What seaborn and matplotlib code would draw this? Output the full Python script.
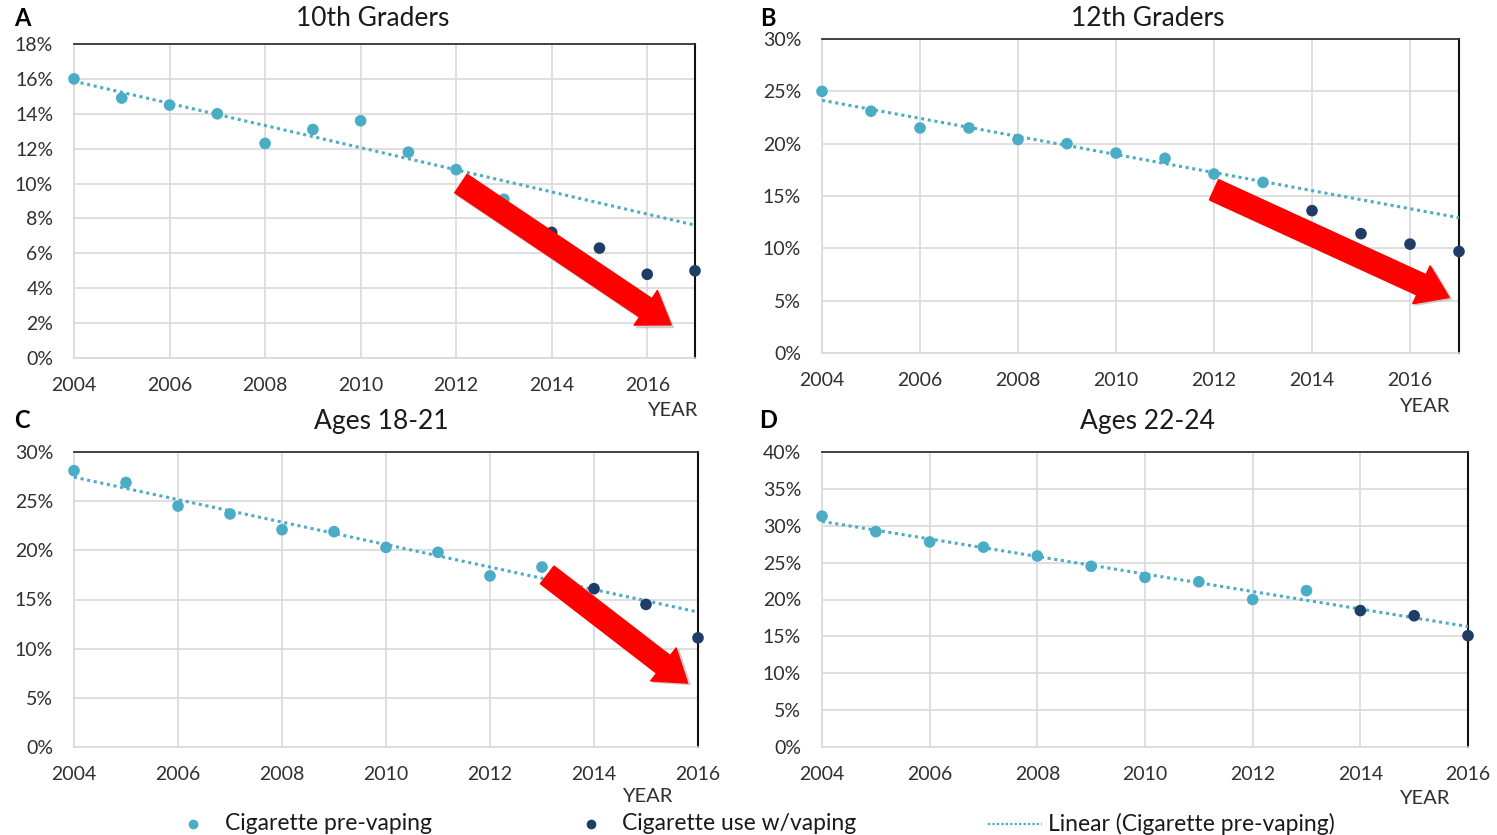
import numpy as np
import pandas as pd
import matplotlib
matplotlib.use("Agg")
import matplotlib.pyplot as plt
import seaborn as sns

sns.set_theme(style="white")
plt.rcParams['font.family'] = ['Lato', 'DejaVu Sans']

# ---------------- data ----------------
years_a = [2004, 2005, 2006, 2007, 2008, 2009, 2010, 2011, 2012, 2013, 2014, 2015, 2016, 2017]
pre_a = [16.0, 14.9, 14.5, 14.0, 12.3, 13.1, 13.6, 11.8, 10.8, 9.1]
vap_a = [7.2, 6.3, 4.8, 5.0]

years_b = [2004, 2005, 2006, 2007, 2008, 2009, 2010, 2011, 2012, 2013, 2014, 2015, 2016, 2017]
pre_b = [25.0, 23.1, 21.5, 21.5, 20.4, 20.0, 19.1, 18.6, 17.1, 16.3]
vap_b = [13.6, 11.4, 10.4, 9.7]

years_c = [2004, 2005, 2006, 2007, 2008, 2009, 2010, 2011, 2012, 2013, 2014, 2015, 2016]
pre_c = [28.1, 26.9, 24.5, 23.7, 22.1, 21.9, 20.3, 19.8, 17.4, 18.3]
vap_c = [16.1, 14.5, 11.1]

years_d = [2004, 2005, 2006, 2007, 2008, 2009, 2010, 2011, 2012, 2013, 2014, 2015, 2016]
pre_d = [31.3, 29.2, 27.8, 27.1, 25.9, 24.5, 23.0, 22.4, 20.0, 21.2]
vap_d = [18.5, 17.8, 15.1]

titles = ["10th Graders", "12th Graders", "Ages 18-21", "Ages 22-24"]
letters = ["A", "B", "C", "D"]
y_max = [18, 30, 30, 40]
y_step = [2, 5, 5, 5]
x_ticks = [2004, 2006, 2008, 2010, 2012, 2014, 2016]

# red annotation arrows (tail -> head), in data units
arrows = [((2012.1, 10.0), (2016.5, 1.9)),
          ((2012.0, 15.6), (2016.8, 5.3)),
          ((2013.1, 17.5), (2015.8, 6.5)),
          None]

legend_labels = ["Cigarette pre-vaping", "Cigarette use w/vaping", "Linear (Cigarette pre-vaping)"]

LIGHT = "#4BACC6"
DARK = "#1F3D66"
GRID = "#D9D9D9"
TXT = "#303030"

fig = plt.figure(figsize=(14.97, 8.35), dpi=100)
W, H = 1497, 835
boxes = [(74, 695, 44, 358), (822, 1459, 39, 353), (74, 698, 452, 747), (822, 1468, 452, 747)]
title_pos = [(373, 18), (1148, 18), (381, 421), (1148, 421)]
letter_pos = [(22, 18), (768, 18), (22, 421), (768, 421)]
year_pos = [(672, 410), (1424, 407), (647, 797), (1424, 798)]

panels = [(years_a, pre_a, vap_a), (years_b, pre_b, vap_b), (years_c, pre_c, vap_c), (years_d, pre_d, vap_d)]

for i, ((yrs, pre, vap), (l, r, t, b)) in enumerate(zip(panels, boxes)):
    ax = fig.add_axes([l / W, 1 - b / H, (r - l) / W, (b - t) / H])
    n_pre = len(pre)
    df_pre = pd.DataFrame({"year": yrs[:n_pre], "val": pre})
    df_vap = pd.DataFrame({"year": yrs[n_pre:], "val": vap})
    slope, icpt = np.polyfit(df_pre["year"], df_pre["val"], 1)
    xs = np.array([yrs[0], yrs[-1]], dtype=float)
    df_fit = pd.DataFrame({"year": xs, "val": slope * xs + icpt})

    sns.lineplot(data=df_fit, x="year", y="val", ax=ax, color=LIGHT, lw=2.2,
                 linestyle=(0, (1, 1.2)), zorder=3)
    sns.scatterplot(data=df_pre, x="year", y="val", ax=ax, color=LIGHT, s=70,
                    edgecolor="none", zorder=4, clip_on=False)
    sns.scatterplot(data=df_vap, x="year", y="val", ax=ax, color=DARK, s=70,
                    edgecolor="none", zorder=4, clip_on=False)

    ax.set_xlim(yrs[0], yrs[-1])
    ax.set_ylim(0, y_max[i])
    ax.set_xticks(x_ticks)
    yt = np.arange(0, y_max[i] + 0.1, y_step[i])
    ax.set_yticks(yt)
    ax.set_yticklabels([f"{v:.0f}%" for v in yt])
    ax.grid(True, color=GRID, lw=1.2)
    ax.set_axisbelow(True)
    ax.tick_params(axis="both", length=0, labelsize=14, colors=TXT)
    ax.tick_params(axis="x", pad=13.5)
    ax.tick_params(axis="y", pad=15)
    ax.set_xlabel("")
    ax.set_ylabel("")
    for s in ["left", "bottom"]:
        ax.spines[s].set_color(GRID)
        ax.spines[s].set_linewidth(1.2)
    ax.spines["top"].set_color("#333333")
    ax.spines["top"].set_linewidth(1.3)
    ax.spines["right"].set_color("#111111")
    ax.spines["right"].set_linewidth(1.5)

    fig.text(title_pos[i][0] / W, 1 - title_pos[i][1] / H, titles[i], ha="center", va="center",
             fontsize=19, color="#1A1A1A")
    fig.text(letter_pos[i][0] / W, 1 - letter_pos[i][1] / H, letters[i],
             ha="center", va="center", fontsize=17, fontweight="bold", color="black")
    fig.text(year_pos[i][0] / W, 1 - year_pos[i][1] / H, "YEAR", ha="center", va="center",
             fontsize=14.5, color=TXT)

    if arrows[i] is not None:
        (x0, y0), (x1, y1) = arrows[i]
        style = "simple,head_length=1.1,head_width=1.5,tail_width=0.8"
        ax.annotate("", xy=(x1 + 0.05, y1 - 0.15), xytext=(x0 + 0.05, y0 - 0.15),
                    arrowprops=dict(arrowstyle=style, color="#BBBBBB", mutation_scale=20,
                                    shrinkA=0, shrinkB=0, alpha=0.6),
                    annotation_clip=False, zorder=5)
        ax.annotate("", xy=(x1, y1), xytext=(x0, y0),
                    arrowprops=dict(arrowstyle=style, color="#FF0000", mutation_scale=20,
                                    shrinkA=0, shrinkB=0),
                    annotation_clip=False, zorder=6)

# legend
ly = 1 - 824 / H
fig.lines.append(plt.Line2D([193 / W], [ly], marker="o", color=LIGHT, ms=6, ls="none",
                            transform=fig.transFigure))
fig.text(225 / W, ly, legend_labels[0], ha="left", va="center", fontsize=16.5, color="#1A1A1A")
fig.lines.append(plt.Line2D([591 / W], [ly], marker="o", color=DARK, ms=6, ls="none",
                            transform=fig.transFigure))
fig.text(622 / W, ly, legend_labels[1], ha="left", va="center", fontsize=16.5, color="#1A1A1A")
fig.lines.append(plt.Line2D([988 / W, 1042 / W], [ly, ly], color=LIGHT, lw=1.6,
                            ls=(0, (1, 1)), transform=fig.transFigure))
fig.text(1048 / W, ly, legend_labels[2], ha="left", va="center", fontsize=16.5, color="#1A1A1A")

fig.savefig("out.png", dpi=100)
